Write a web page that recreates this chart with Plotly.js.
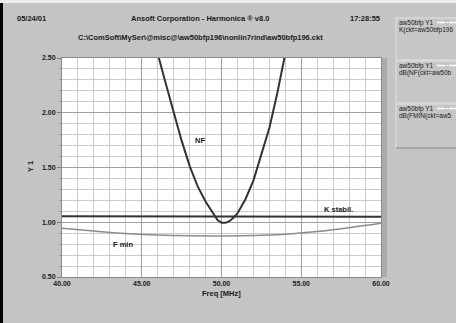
<!DOCTYPE html>
<html><head><meta charset="utf-8">
<script src="https://cdn.plot.ly/plotly-3.0.1.min.js"></script>
<style>html,body{margin:0;padding:0;background:#c4c4c4;}#chart{width:456px;height:323px;}</style>
</head><body><div id="chart"></div>
<script>
// ---- data ----
const nfFreq = [45.5, 46.0, 46.5, 47.0, 47.5, 48.0, 48.5, 49.0, 49.5, 49.75, 50.0, 50.25, 50.5, 50.75, 51.0, 51.5, 52.0, 52.5, 53.0, 53.5, 54.0, 54.5];
const nfVals = [2.95, 2.54, 2.27, 2.00, 1.745, 1.515, 1.33, 1.19, 1.075, 1.02, 0.995, 0.995, 1.01, 1.04, 1.08, 1.21, 1.38, 1.62, 1.86, 2.18, 2.51, 2.9];
const kFreq = [40, 45, 50, 55, 60];
const kVals = [1.055, 1.053, 1.052, 1.051, 1.05];
const fminFreq = [40, 42, 44, 46, 48, 50, 52, 54, 56, 58, 60];
const fminVals = [0.945, 0.92, 0.898, 0.883, 0.876, 0.875, 0.878, 0.89, 0.915, 0.95, 0.99];
const legendLine1 = ["aw50bfp Y1", "aw50bfp Y1", "aw50bfp Y1"];
const legendLine2 = ["K(ckt=aw50bfp196", "dB(NF(ckt=aw50b", "dB(FMIN(ckt=aw5"];

// ---- geometry helpers (pixel -> paper) ----
const L = 62, R = 75, T = 58, B = 46, W = 456, H = 323;
const PW = W - L - R, PH = H - T - B;
const X = px => (px - L) / PW;
const Y = py => (H - B - py) / PH;

const tf = {family: 'Liberation Sans, Arial, sans-serif', size: 7, color: '#1a1a1a', weight: 'bold'};
const hf = {family: 'Liberation Sans, Arial, sans-serif', size: 7.5, color: '#1a1a1a', weight: 'bold'};
const lf = {family: 'Liberation Sans, Arial, sans-serif', size: 6.5, color: '#1a1a1a'};

const traces = [
  {x: nfFreq, y: nfVals, mode: 'lines', line: {color: '#333333', width: 2}, name: 'NF'},
  {x: kFreq, y: kVals, mode: 'lines', line: {color: '#333333', width: 2}, name: 'K'},
  {x: fminFreq, y: fminVals, mode: 'lines', line: {color: '#8c8c8c', width: 1.5, shape: 'spline'}, name: 'Fmin'}
];

const shapes = [
  {type: 'rect', xref: 'paper', yref: 'paper', x0: X(0), x1: X(3), y0: Y(323), y1: Y(3), fillcolor: '#000', line: {width: 0}, layer: 'below'},
  {type: 'rect', xref: 'paper', yref: 'paper', x0: X(0), x1: X(456), y0: Y(3), y1: Y(0), fillcolor: '#eeeeee', line: {width: 0}, layer: 'below'},
  {type: 'rect', xref: 'paper', yref: 'paper', x0: X(381.5), x1: X(387), y0: Y(277), y1: Y(58), fillcolor: '#ababab', line: {width: 0}, layer: 'below'}
];
const annotations = [
  {text: '05/24/01', x: X(31), y: Y(18)},
  {text: 'Ansoft Corporation - Harmonica \u00AE v8.0', x: X(200), y: Y(18)},
  {text: '17:28:55', x: X(365), y: Y(18)},
  {text: 'C:\\ComSoft\\MySer\\@misc@\\aw50bfp196\\nonlin7rind\\aw50bfp196.ckt', x: X(200), y: Y(37)},
  {text: 'Freq [MHz]', x: X(222), y: Y(293)},
  {text: 'Y 1', x: X(30), y: Y(167), textangle: -90}
].map(a => Object.assign({xref: 'paper', yref: 'paper', showarrow: false, xanchor: 'center', yanchor: 'middle', font: hf}, a));

// chart labels on curves (data coords)
annotations.push({text: 'NF', x: 48.66, y: 1.75, xref: 'x', yref: 'y', showarrow: false, font: hf});
annotations.push({text: 'K stabil.', x: 57.35, y: 1.115, xref: 'x', yref: 'y', showarrow: false, font: hf});
annotations.push({text: 'F min', x: 43.85, y: 0.80, xref: 'x', yref: 'y', showarrow: false, font: hf});

// legend boxes
const boxTops = [18, 61, 104], boxBots = [60, 103, 148];
for (let i = 0; i < 3; i++) {
  shapes.push({type: 'rect', xref: 'paper', yref: 'paper', x0: X(396), x1: X(460), y0: Y(boxBots[i]), y1: Y(boxTops[i]), fillcolor: '#c6c6c6', line: {color: '#e2e2e2', width: 1}});
  const ly = boxTops[i] + 4.5;
  shapes.push({type: 'line', xref: 'paper', yref: 'paper', x0: X(437), x1: X(456), y0: Y(ly), y1: Y(ly), line: {color: '#ffffff', width: 1.5}});
  shapes.push({type: 'circle', xref: 'paper', yref: 'paper', x0: X(445.5), x1: X(448.5), y0: Y(ly + 1.5), y1: Y(ly - 1.5), fillcolor: '#ffffff', line: {color: '#999', width: 0.7}});
  annotations.push({text: legendLine1[i], x: X(397), y: Y(ly), xref: 'paper', yref: 'paper', showarrow: false, xanchor: 'left', yanchor: 'middle', font: lf});
  annotations.push({text: legendLine2[i], x: X(397), y: Y(ly + 7.5), xref: 'paper', yref: 'paper', showarrow: false, xanchor: 'left', yanchor: 'middle', font: lf});
}
shapes.push({type: 'line', xref: 'paper', yref: 'paper', x0: X(396), x1: X(460), y0: Y(148), y1: Y(148), line: {color: '#7a7a7a', width: 1}});

const layout = {
  width: W, height: H,
  margin: {l: L, r: R, t: T, b: B, pad: 0},
  paper_bgcolor: '#c4c4c4', plot_bgcolor: '#ffffff',
  showlegend: false,
  xaxis: {range: [40, 60], tick0: 40, dtick: 5, tickformat: '.2f', ticks: '', showgrid: true, gridcolor: '#a0a0a0', gridwidth: 1,
    minor: {dtick: 1, showgrid: true, gridcolor: '#cbcbcb', gridwidth: 1},
    showline: true, mirror: true, linecolor: '#8a8a8a', linewidth: 1, zeroline: false, tickfont: tf, ticklabelstandoff: 0},
  yaxis: {range: [0.5, 2.5], tick0: 0.5, dtick: 0.5, tickformat: '.2f', ticks: 'outside', ticklen: 4, tickcolor: '#777',
    showgrid: true, gridcolor: '#a0a0a0', gridwidth: 1,
    minor: {dtick: 0.1, ticks: 'outside', ticklen: 2, tickcolor: '#999', showgrid: true, gridcolor: '#cbcbcb', gridwidth: 1},
    showline: true, mirror: true, linecolor: '#8a8a8a', linewidth: 1, zeroline: false, tickfont: tf, ticklabelstandoff: 0},
  shapes: shapes,
  annotations: annotations
};
Plotly.newPlot('chart', traces, layout, {displayModeBar: false, staticPlot: true});
</script></body></html>
